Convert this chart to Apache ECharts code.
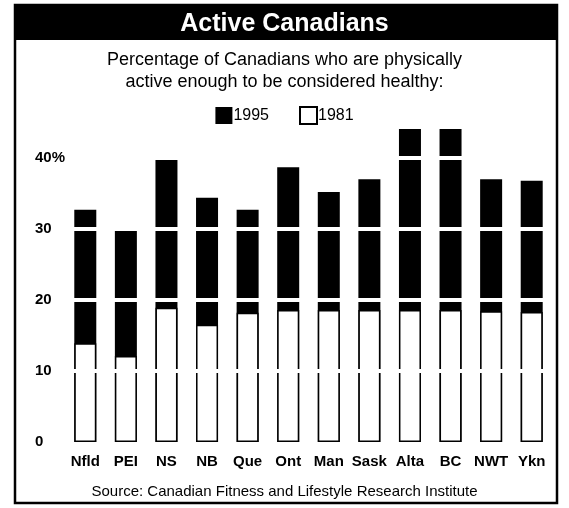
<!DOCTYPE html>
<html>
<head>
<meta charset="utf-8">
<script src="https://cdn.jsdelivr.net/npm/echarts@6/dist/echarts.min.js"></script>
<style>
  html, body { margin: 0; padding: 0; background: #fff; }
  #chart { width: 569px; height: 508px; }
</style>
</head>
<body>
<div id="chart"></div>
<script>
const provinces = ["Nfld", "PEI", "NS", "NB", "Que", "Ont", "Man", "Sask", "Alta", "BC", "NWT", "Ykn"];
const active1995 = [32.7, 30, 40, 34.4, 32.7, 38.7, 35.2, 37, 44.1, 44.1, 37, 36.8];
const active1981 = [13.9, 12.1, 18.9, 16.5, 18.2, 18.6, 18.6, 18.6, 18.6, 18.6, 18.4, 18.3];
const gridValues = [10, 20, 30, 40];

const font = "'Liberation Sans', Arial, sans-serif";
let myChart = echarts.init(document.getElementById("chart"));

var option = {
  animation: false,
  backgroundColor: "#fff",
  graphic: [
    // frame + black title band
    {
      type: "rect",
      shape: { x: 15, y: 5, width: 542, height: 498 },
      style: { fill: "none", stroke: "#000", lineWidth: 2.5 },
      z: 0,
    },
    {
      type: "rect",
      shape: { x: 15, y: 5, width: 542, height: 35 },
      style: { fill: "#000" },
      z: 0,
    },
  ],
  title: [
    {
      text: "Active Canadians",
      left: "center",
      top: 7,
      textStyle: { color: "#fff", fontSize: 25, fontWeight: "bold", fontFamily: font },
    },
    {
      text: "Percentage of Canadians who are physically\nactive enough to be considered healthy:",
      left: "center",
      top: 44,
      textStyle: { color: "#000", fontSize: 18, fontWeight: "normal", fontFamily: font, lineHeight: 22 },
    },
    {
      text: "Source: Canadian Fitness and Lifestyle Research Institute",
      left: "center",
      top: 479,
      textStyle: { color: "#000", fontSize: 15, fontWeight: "normal", fontFamily: font },
    },
  ],
  legend: {
    top: 101,
    left: "center",
    itemWidth: 17,
    itemHeight: 17,
    itemGap: 30,
    icon: "rect",
    textStyle: { fontSize: 16, fontFamily: font, color: "#000", padding: [0, 0, 0, -4] },
    data: ["1995", "1981"],
  },
  grid: {
    left: 65,
    right: 17,
    top: 87,
    bottom: 66,
  },
  xAxis: {
    type: "category",
    data: provinces,
    axisLine: { show: false },
    axisTick: { show: false },
    axisLabel: {
      interval: 0,
      margin: 12,
      color: "#000",
      fontSize: 15,
      fontWeight: "bold",
      fontFamily: font,
    },
  },
  yAxis: {
    type: "value",
    min: 0,
    max: 50,
    interval: 10,
    splitLine: { show: false },
    axisLine: { show: false },
    axisTick: { show: false },
    axisLabel: {
      align: "left",
      margin: 30,
      color: "#000",
      fontSize: 15,
      fontWeight: "bold",
      fontFamily: font,
      formatter: function (v) {
        if (v === 40) return "40%";
        if (v > 40) return "";
        return String(v);
      },
    },
  },
  series: [
    {
      name: "1995",
      type: "bar",
      data: active1995,
      barWidth: 22,
      barGap: "-100%",
      itemStyle: { color: "#000" },
    },
    {
      name: "1981",
      type: "bar",
      data: active1981,
      barWidth: 22,
      barGap: "-100%",
      itemStyle: { color: "#fff", borderColor: "#000", borderWidth: 1.5 },
      // white grid lines drawn over the bars
      markLine: {
        silent: true,
        symbol: "none",
        label: { show: false },
        lineStyle: { color: "#fff", width: 4, type: "solid" },
        data: gridValues.map((v) => ({ yAxis: v })),
      },
    },
  ],
};

myChart.setOption(option);
</script>
</body>
</html>
